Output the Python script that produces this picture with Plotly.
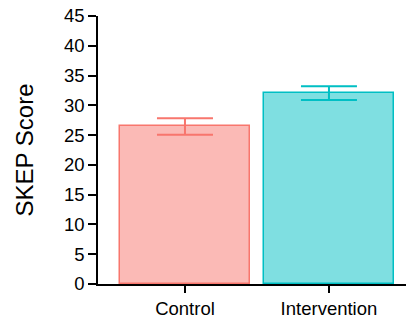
import plotly.graph_objects as go

categories = ["Control", "Intervention"]
means = [26.45, 32.05]
errors = [1.4, 1.15]
fill_colors = ["rgba(248,118,109,0.5)", "rgba(0,191,196,0.5)"]
line_colors = ["#F8766D", "#00BFC4"]
y_ticks = [0, 5, 10, 15, 20, 25, 30, 35, 40, 45]

font_family = "Arial, Liberation Sans, sans-serif"

fig = go.Figure()
for cat, m, e, fc, lc in zip(categories, means, errors, fill_colors, line_colors):
    fig.add_trace(go.Bar(
        x=[cat], y=[m], width=0.9,
        marker=dict(color=fc, line=dict(color=lc, width=1.5)),
        error_y=dict(type="data", array=[e], visible=True, color=lc, thickness=2, width=28),
        showlegend=False,
    ))

fig.update_layout(
    width=407, height=320,
    margin=dict(l=98, r=1, t=16, b=34),
    plot_bgcolor="white", paper_bgcolor="white",
    font=dict(family=font_family, color="black"),
    bargap=0,
)
fig.update_xaxes(
    type="category", range=[-0.604, 1.535],
    showline=True, linecolor="black", linewidth=1.5,
    ticks="outside", tickcolor="black", ticklen=7, tickwidth=1.5,
    tickfont=dict(size=18.5, family=font_family, color="black"),
    showgrid=False, zeroline=False,
)
fig.update_yaxes(
    range=[0, 45], tickvals=y_ticks,
    showline=True, linecolor="black", linewidth=1.5,
    ticks="outside", tickcolor="black", ticklen=8, tickwidth=1.5,
    tickfont=dict(size=18.5, family=font_family, color="black"),
    showgrid=False, zeroline=False,
    title=dict(text="SKEP Score", font=dict(size=24, family=font_family, color="black"), standoff=24),
)

fig.write_html("out.html")
